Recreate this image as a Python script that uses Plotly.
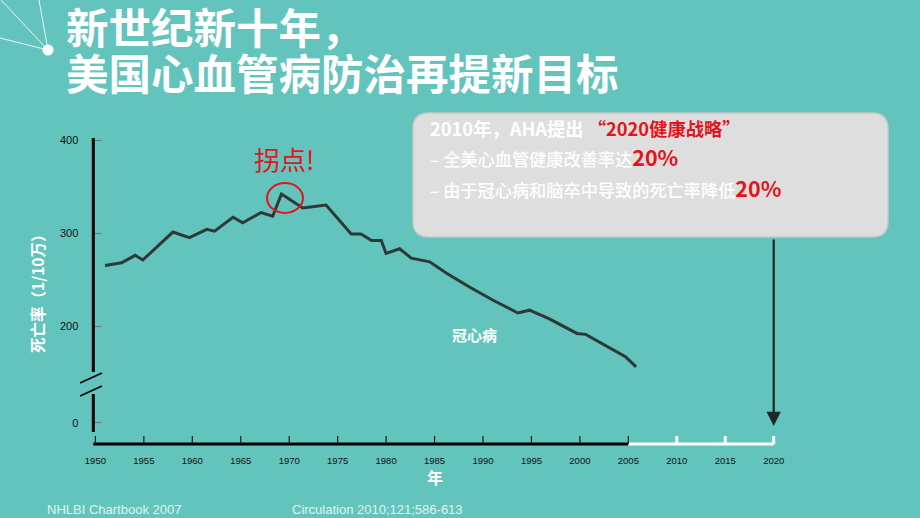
import plotly.graph_objects as go

# ---------------- data ----------------
years = [1951.0, 1952.7, 1954.1, 1954.9, 1958.0, 1959.7, 1961.5, 1962.3, 1964.2, 1965.2,
         1967.1, 1968.3, 1969.2, 1971.4, 1973.8, 1976.4, 1977.4, 1978.5, 1979.5, 1980.0,
         1981.4, 1982.6, 1984.5, 1986.2, 1988.6, 1991.0, 1993.6, 1994.8, 1996.8, 1999.7,
         2000.6, 2003.3, 2004.7, 2005.8]
chd_rate = [265, 268, 276, 271, 301, 295, 304, 302, 317, 311,
            322, 318, 342, 327, 330, 299, 299, 292, 292, 278,
            283, 273, 269, 257, 242, 228, 214, 217, 208, 192,
            191, 175, 167, 156]

x_ticks_hist = [1950, 1955, 1960, 1965, 1970, 1975, 1980, 1985, 1990, 1995, 2000, 2005]
x_ticks_future = [2010, 2015, 2020]
x_tick_labels = [str(v) for v in x_ticks_hist + x_ticks_future]

y_tick_vals = [96, 200, 300, 400]       # broken axis: bottom tick stands for 0
y_tick_text = ["0", "200", "300", "400"]

W, H = 920, 518
BG = "#62c4bd"
RED = "#e3141b"
LINE = "#2e3838"

def px(x):
    return x / W

def py(y):
    return 1 - y / H

# pixel mapping of the axes
X0PIX, XSCALE = 95.4, 9.69          # 1950 at 95.4 px, px / year
def yr(p):
    return 1950 + (p - X0PIX) / XSCALE
Y400, YSCALE = 140.0, 0.93
def val(p):
    return 400 - (p - Y400) / YSCALE

fig = go.Figure()
fig.add_trace(go.Scatter(x=years, y=chd_rate, mode="lines",
                         line=dict(color=LINE, width=3), hoverinfo="skip",
                         showlegend=False))

shapes = []
# x axis lines
shapes.append(dict(type="line", xref="x", yref="paper", x0=yr(87), x1=2005, y0=py(444), y1=py(444),
                   line=dict(color="#000000", width=3)))
shapes.append(dict(type="line", xref="x", yref="paper", x0=2005, x1=2020, y0=py(444), y1=py(444),
                   line=dict(color="#ffffff", width=3)))
for t in x_ticks_hist:
    shapes.append(dict(type="line", xref="x", yref="paper", x0=t, x1=t, y0=py(444), y1=py(436),
                       line=dict(color="#1a1a1a", width=1.2)))
for t in x_ticks_future:
    shapes.append(dict(type="line", xref="x", yref="paper", x0=t, x1=t, y0=py(444), y1=py(436),
                       line=dict(color="#ffffff", width=3)))
# y axis (broken)
shapes.append(dict(type="line", xref="paper", yref="paper", x0=px(93.3), x1=px(93.3), y0=py(138), y1=py(372),
                   line=dict(color="#000000", width=3)))
shapes.append(dict(type="line", xref="paper", yref="paper", x0=px(93.3), x1=px(93.3), y0=py(394), y1=py(432),
                   line=dict(color="#000000", width=3)))
shapes.append(dict(type="line", xref="paper", yref="paper", x0=px(80), x1=px(102), y0=py(383), y1=py(373),
                   line=dict(color="#000000", width=1.5)))
shapes.append(dict(type="line", xref="paper", yref="paper", x0=px(80), x1=px(102), y0=py(396), y1=py(386),
                   line=dict(color="#000000", width=1.5)))
# red circle
shapes.append(dict(type="circle", xref="paper", yref="paper", x0=px(267), x1=px(303), y0=py(183), y1=py(213),
                   line=dict(color=RED, width=2)))
# callout box (rounded)
bx0, by0, bx1, by1, r = 413, 113, 888, 237, 16
path = (f"M {bx0 + r},{by0} L {bx1 - r},{by0} Q {bx1},{by0} {bx1},{by0 + r} "
        f"L {bx1},{by1 - r} Q {bx1},{by1} {bx1 - r},{by1} L {bx0 + r},{by1} "
        f"Q {bx0},{by1} {bx0},{by1 - r} L {bx0},{by0 + r} Q {bx0},{by0} {bx0 + r},{by0} Z")

def conv_path(p):
    out = []
    for tok in p.split(" "):
        if "," in tok:
            a, b = tok.split(",")
            out.append(f"{px(float(a)):.5f},{py(float(b)):.5f}")
        else:
            out.append(tok)
    return " ".join(out)

shapes.append(dict(type="path", xref="paper", yref="paper", path=conv_path(path),
                   fillcolor="#dedede", line=dict(color="#c8c8c8", width=1.5)))
# top-left decoration
for (xa, ya) in [(1, 0), (39, 0), (0, 38)]:
    shapes.append(dict(type="line", xref="paper", yref="paper", x0=px(xa), y0=py(ya), x1=px(48), y1=py(50),
                       line=dict(color="rgba(255,255,255,0.85)", width=1)))
shapes.append(dict(type="circle", xref="paper", yref="paper", x0=px(42.5), x1=px(53.5), y0=py(44.5), y1=py(55.5),
                   fillcolor="#ffffff", line=dict(color="#ffffff", width=0)))

CJK = "Noto Sans CJK SC, Liberation Sans, sans-serif"
SANS = "Liberation Sans, Arial, sans-serif"

ann = []
def text(x, y, s, size, color="#ffffff", xanchor="left", font=CJK, weight=None, **kw):
    f = dict(size=size, color=color, family=font)
    if weight:
        f["weight"] = weight
    ann.append(dict(x=px(x), y=py(y), xref="paper", yref="paper", text=s, showarrow=False,
                    xanchor=xanchor, yanchor="middle", font=f, **kw))

text(64, 25, "<b>新世纪新十年，</b>", 42.5)
text(64, 71, "<b>美国心血管病防治再提新目标</b>", 42.5)
text(37, 290, "<b>死亡率（1/10万）</b>", 15.5, xanchor="center", textangle=-90)
text(435, 477, "<b>年</b>", 16, xanchor="center")
text(283.5, 159, "拐点!", 26, color=RED, xanchor="center")
text(475, 334, "<b>冠心病</b>", 15, xanchor="center")
text(428, 128, f"<b>2010年，AHA提出 <span style='color:{RED}'>“2020健康战略”</span></b>", 18.3)
text(428, 157, f"– 全美心血管健康改善率达<b><span style='color:{RED};font-size:21.5px'>20%</span></b>", 17.2,
     weight=500)
text(428, 188, f"– 由于冠心病和脑卒中导致的死亡率降低<b><span style='color:{RED};font-size:21.5px'>20%</span></b>", 17.2,
     weight=500)
text(45, 509, "NHLBI Chartbook 2007", 13, color="#e4f2f0", font=SANS)
text(290, 509, "Circulation 2010;121;586-613", 13, color="#e4f2f0", font=SANS)

# arrow from callout box down to 2020
ann.append(dict(x=2020, y=val(426), xref="x", yref="y", ax=0, ay=-(426 - 238), axref="pixel", ayref="pixel",
                text="", showarrow=True, arrowhead=2, arrowsize=1.3, arrowwidth=2.2, arrowcolor="#1e2626"))

fig.update_layout(
    width=W, height=H,
    margin=dict(l=0, r=0, t=0, b=0, pad=0),
    paper_bgcolor=BG, plot_bgcolor=BG,
    shapes=shapes, annotations=ann,
    xaxis=dict(domain=[px(93.3), px(790)], range=[yr(93.3), yr(790)], automargin=False,
               showgrid=False, zeroline=False, showline=False, ticks="",
               tickvals=x_ticks_hist + x_ticks_future, ticktext=x_tick_labels,
               tickfont=dict(family=SANS, size=9.5, color="#111111"),
               ticklabelstandoff=9, tickprefix="<b>", ticksuffix="</b>"),
    yaxis=dict(domain=[py(444), py(138)], range=[val(444), val(138)], automargin=False,
               showgrid=False, zeroline=False, showline=False,
               ticks="inside", ticklen=9, tickwidth=1, tickcolor="#5a7f7c",
               tickvals=y_tick_vals, ticktext=y_tick_text,
               tickfont=dict(family=SANS, size=11, color="#111111"),
               ticklabelstandoff=14, tickprefix="<b>", ticksuffix="</b>"),
    showlegend=False,
)

fig.write_html("out.html")
